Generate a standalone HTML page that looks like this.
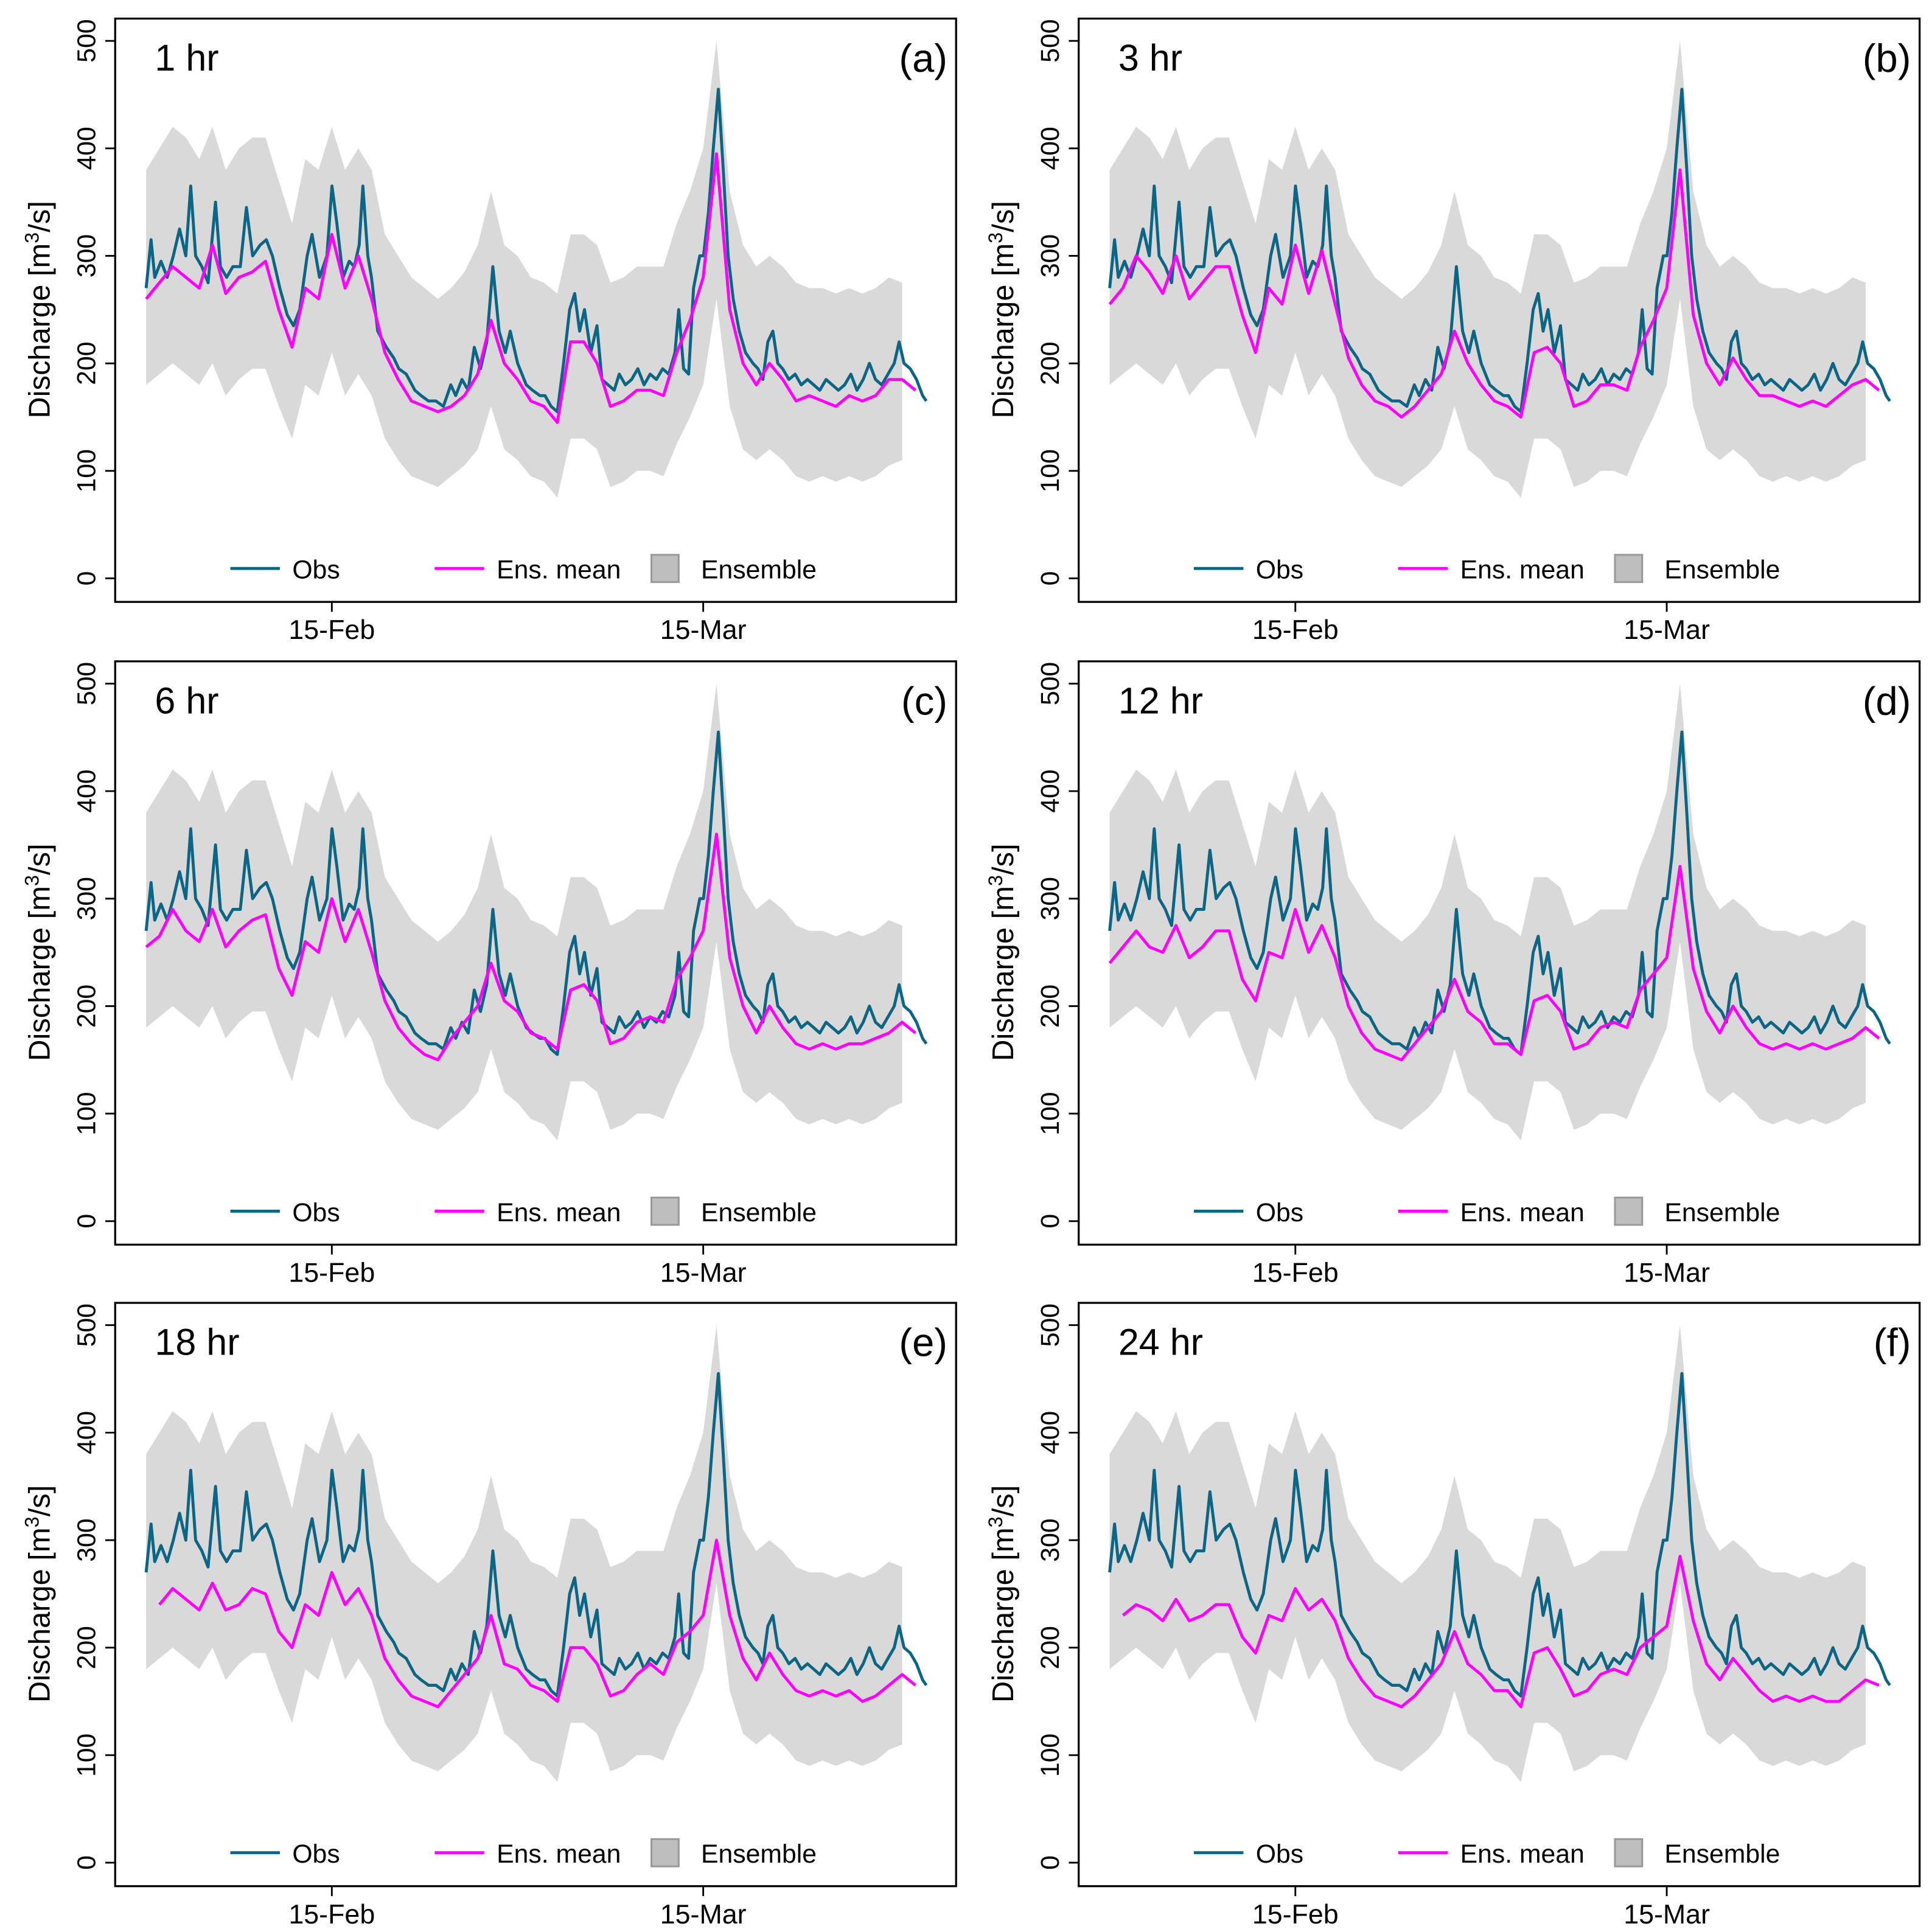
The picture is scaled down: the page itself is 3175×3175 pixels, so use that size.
<!DOCTYPE html>
<html><head><meta charset="utf-8"><style>
html,body{margin:0;padding:0;background:#fff}
svg{display:block}
text{font-family:"Liberation Sans",Arial,sans-serif;fill:#000}
</style></head><body>
<svg id="fig" xmlns="http://www.w3.org/2000/svg" width="3175" height="3175" viewBox="0 0 1560 1560"></svg>
<script>
// Time in days after 1-Feb
const obsDays=[0,0.37,0.65,1.12,1.59,2.05,2.52,2.99,3.36,3.73,4.2,4.67,5.23,5.6,6.07,6.54,7.1,7.56,8.03,8.59,9.06,9.52,10.08,10.64,11.11,11.58,12.14,12.51,13.07,13.63,14.01,14.38,14.85,15.31,15.69,16.06,16.34,16.71,16.99,17.46,18.11,18.67,19.05,19.61,20.26,20.73,21.29,21.85,22.41,22.97,23.34,23.81,24.28,24.74,25.21,25.68,26.14,26.61,27.08,27.45,28.01,28.66,29.13,29.69,30.07,30.53,31.0,31.47,31.93,32.31,32.68,33.05,33.52,33.99,34.36,34.83,35.29,35.67,36.13,36.6,37.07,37.54,38.0,38.47,38.94,39.4,39.87,40.15,40.52,40.9,41.27,41.74,42.02,42.39,42.76,43.14,43.51,43.88,44.26,44.72,45.19,45.75,46.13,46.5,46.87,47.25,47.62,47.99,48.46,48.93,49.39,49.86,50.33,50.79,51.26,51.73,52.19,52.66,53.13,53.59,54.06,54.53,54.99,55.46,55.93,56.4,56.77,57.14,57.61,58.08,58.54,58.82];
const obsVals=[270,315,280,295,280,300,325,300,365,300,290,275,350,290,280,290,290,345,300,310,315,300,270,245,235,250,300,320,280,300,365,330,280,295,290,310,365,300,280,230,215,205,195,190,175,170,165,165,160,180,170,185,175,215,195,220,290,230,210,230,200,180,175,170,170,160,155,200,250,265,230,250,210,235,185,180,175,190,180,185,195,180,190,185,195,190,210,250,195,190,270,300,300,340,400,455,380,300,260,230,210,200,195,185,220,230,200,195,185,190,180,185,180,175,185,180,175,180,190,175,185,200,185,180,190,200,220,200,195,185,170,165];
// Daily ensemble-mean values (day 0..58) per lead time
const ensA=[260,275,290,280,270,310,265,280,285,295,250,215,270,260,320,270,300,260,210,185,165,160,155,160,170,190,240,200,185,165,160,145,220,220,200,160,165,175,175,170,210,240,280,395,250,200,180,200,185,165,170,165,160,170,165,170,185,185,175];
const ensB=[255,270,300,285,265,300,260,275,290,290,245,210,270,255,310,265,305,255,205,180,165,160,150,160,175,190,230,200,180,165,160,150,210,215,200,160,165,180,180,175,215,240,270,380,245,200,180,205,185,170,170,165,160,165,160,170,180,185,175];
const ensC=[255,265,290,270,260,290,255,270,280,285,235,210,260,250,300,260,290,250,205,180,165,155,150,170,185,200,240,205,195,175,170,160,215,220,205,165,170,185,190,185,225,245,270,360,245,200,175,200,180,165,160,165,160,165,165,170,175,185,175];
const ensD=[240,255,270,255,250,275,245,255,270,270,225,205,250,245,290,250,275,245,200,175,160,155,150,165,180,195,225,195,185,165,165,155,205,210,195,160,165,180,185,180,215,230,245,330,235,195,175,200,180,165,160,165,160,165,160,165,170,180,170];
const ensE=[null,240,255,245,235,260,235,240,255,250,215,200,240,230,270,240,255,230,190,170,155,150,145,160,175,190,230,185,180,165,160,150,200,200,185,155,160,175,185,175,205,215,230,300,230,190,170,195,175,160,155,160,155,160,150,155,165,175,165];
const ensF=[null,230,240,235,225,245,225,230,240,240,210,195,230,225,255,235,245,225,190,170,155,150,145,155,170,185,215,185,175,160,160,145,195,200,180,155,160,175,180,175,200,210,220,285,225,185,170,190,175,160,150,155,150,155,150,150,160,170,165];
const bandHigh=[380,400,420,410,390,420,380,400,410,410,370,330,390,380,420,380,400,380,320,300,280,270,260,270,285,310,360,310,300,280,275,265,320,320,310,275,280,290,290,290,330,360,400,500,360,310,290,300,290,275,270,270,265,270,265,270,280,275];
const bandLow=[180,190,200,190,180,200,170,185,195,195,160,130,180,170,210,170,190,170,130,110,95,90,85,95,105,120,160,120,110,95,90,75,130,130,120,85,90,100,100,95,125,150,180,260,160,120,110,120,110,95,90,95,90,95,90,95,105,110];
const yTicks=[0,100,200,300,400,500];
const xTickDays=[14,42];
const xTickLabels=["15-Feb","15-Mar"];
const leadLabels=["1 hr","3 hr","6 hr","12 hr","18 hr","24 hr"];
const panelLetters=["(a)","(b)","(c)","(d)","(e)","(f)"];
const ensAll=[ensA,ensB,ensC,ensD,ensE,ensF];

const NS="http://www.w3.org/2000/svg";
const svg=document.getElementById('fig');
function mk(tag,attrs,parent){const e=document.createElementNS(NS,tag);for(const k in attrs)e.setAttribute(k,attrs[k]);(parent||svg).appendChild(e);return e;}
const W=679,H=471;
const lefts=[93,871],tops=[15,534,1052];
for(let p=0;p<6;p++){
  const L=lefts[p%2],T=tops[Math.floor(p/2)];
  const g=mk('g',{});
  
  
  const xs=d=>L+25+d*10.71;
  const ys=v=>T+452-v*0.868;
  // band
  let pts=[];
  for(let i=0;i<bandHigh.length;i++)pts.push(xs(i)+','+ys(bandHigh[i]));
  for(let i=bandLow.length-1;i>=0;i--)pts.push(xs(i)+','+ys(bandLow[i]));
  const band=mk('polygon',{points:pts.join(' '),fill:'#d9d9d9',stroke:'none'},g);
  
  
  // obs
  const op=obsDays.map((d,i)=>xs(d)+','+ys(obsVals[i])).join(' ');
  const ol=mk('polyline',{points:op,fill:'none',stroke:'#0b6585','stroke-width':2.4,'stroke-linejoin':'round'},g);
  
  
  // ens mean
  const ens=ensAll[p];let ep=[];
  ens.forEach((v,i)=>{if(v!==null)ep.push(xs(i)+','+ys(v));});
  const el=mk('polyline',{points:ep.join(' '),fill:'none',stroke:'#ff00ff','stroke-width':2.4,'stroke-linejoin':'round'},g);
  
  
  // frame
  const fr=mk('rect',{x:L,y:T,width:W,height:H,fill:'none',stroke:'#000','stroke-width':1.6},g);
  
  
  // y ticks
  yTicks.forEach(v=>{
    const t=mk('line',{x1:L-8,x2:L,y1:ys(v),y2:ys(v),stroke:'#000','stroke-width':1.4},g);
    
    
    const tx=mk('text',{x:0,y:0,'font-size':21,'text-anchor':'middle',transform:`translate(${L-16},${ys(v)}) rotate(-90)`},g);
    tx.textContent=v;
    
    
  });
  const yt=mk('text',{x:0,y:0,'font-size':24,'text-anchor':'middle',transform:`translate(${L-53},${T+235}) rotate(-90)`},g);
  yt.innerHTML='Discharge [m<tspan baseline-shift="super" font-size="16">3</tspan>/s]';
  
  
  // x ticks
  xTickDays.forEach((d,i)=>{
    const t=mk('line',{x1:xs(d),x2:xs(d),y1:T+H,y2:T+H+8,stroke:'#000','stroke-width':1.4},g);
    
    
    const tx=mk('text',{x:xs(d),y:T+H+30,'font-size':22,'text-anchor':'middle'},g);
    tx.textContent=xTickLabels[i];
    
    
  });
  const ll=mk('text',{x:L+32,y:T+42,'font-size':30},g);
  ll.textContent=leadLabels[p];
  
  
  const pl=mk('text',{x:L+W-7,y:T+43,'font-size':32,'text-anchor':'end'},g);
  pl.textContent=panelLetters[p];
  
  
  // legend
  const ly=T+444;
  const lg=mk('g',{},g);
  
  
  mk('line',{x1:L+93,x2:L+133,y1:ly,y2:ly,stroke:'#0b6585','stroke-width':2.4},lg);
  const t1=mk('text',{x:L+143,y:ly+8,'font-size':21},lg);t1.textContent='Obs';
  
  
  mk('line',{x1:L+258,x2:L+298,y1:ly,y2:ly,stroke:'#ff00ff','stroke-width':2.4},lg);
  const t2=mk('text',{x:L+308,y:ly+8,'font-size':21},lg);t2.textContent='Ens. mean';
  
  
  mk('rect',{x:L+433,y:ly-11,width:22,height:22,fill:'#bebebe',stroke:'#999','stroke-width':1.5},lg);
  const t3=mk('text',{x:L+473,y:ly+8,'font-size':21},lg);t3.textContent='Ensemble';
  
  
}
</script>
</body></html>
